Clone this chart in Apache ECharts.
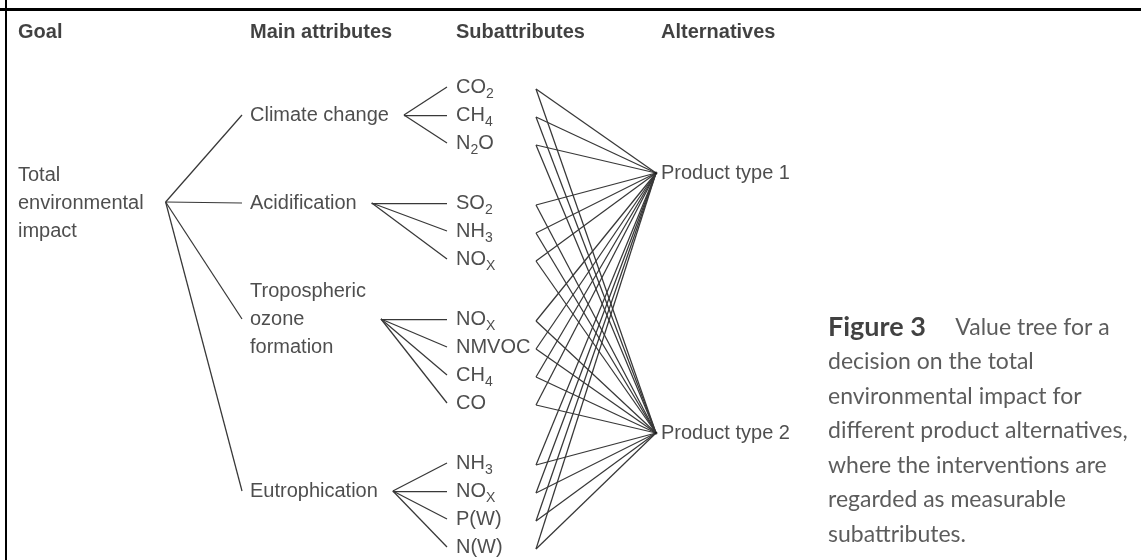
<!DOCTYPE html>
<html>
<head>
<meta charset="utf-8">
<script src="https://cdn.jsdelivr.net/npm/echarts@6/dist/echarts.min.js"></script>
<style>
html,body{margin:0;padding:0;background:#fff;}
#chart{width:1141px;height:560px;}
</style>
</head>
<body>
<div id="chart"></div>
<script>
// ---------- DATA ----------
const headers = ['Goal', 'Main attributes', 'Subattributes', 'Alternatives'];
const goal = ['Total', 'environmental', 'impact'];
const mainAttributes = [['Climate change'], ['Acidification'], ['Tropospheric', 'ozone', 'formation'], ['Eutrophication']];
const subattributes = [
  ['CO_2', 'CH_4', 'N_2O'],
  ['SO_2', 'NH_3', 'NO_X'],
  ['NO_X', 'NMVOC', 'CH_4', 'CO'],
  ['NH_3', 'NO_X', 'P(W)', 'N(W)']
];
const alternatives = ['Product type 1', 'Product type 2'];
const captionTitle = 'Figure 3';
const captionLines = ['Value tree for a', 'decision on the total', 'environmental impact for',
  'different product alternatives,', 'where the interventions are', 'regarded as measurable', 'subattributes.'];

// ---------- LAYOUT (code constants) ----------
const W = 1141, H = 560;
const colX = [18, 250, 456, 661];
const headerY = 32;
const firstRow = 87, rowStep = 28, groupGap = 60;
const mainAnchor = [1, 0, 0, 1];   // which child the main attribute aligns with
const altAfterGroup = [0, 2];      // alternatives sit in the gap after these groups
const FONT = '"Liberation Sans", Arial, sans-serif';
const FS = 20;
const TXT = '#222';
const LINE = '#383838';

const cv = document.createElement('canvas').getContext('2d');
function textW(s, bold) { cv.font = (bold ? 'bold ' : '') + FS + 'px ' + FONT; return cv.measureText(s).width; }

// subattribute rows
const subY = [];
let y = firstRow;
subattributes.forEach((g, gi) => {
  const ys = [];
  g.forEach((s, si) => { ys.push(y); y += rowStep; });
  y += groupGap - rowStep;
  subY.push(ys);
});
const mainY = subY.map((ys, i) => ys[mainAnchor[i]]);
const goalY = mainY[1];
const altY = altAfterGroup.map(g => (subY[g][subY[g].length - 1] + subY[g + 1][0]) / 2);
const altX = colX[3] - 5;
const subRightX = colX[2] + 80;

const goalJx = colX[0] + Math.max(...goal.map(s => textW(s))) + 22;
const segs = [];
mainAttributes.forEach((m, i) => {
  segs.push([[goalJx, goalY - 1], [colX[1] - 8, mainY[i]]]);
  const jx = colX[1] + Math.max(...m.map(s => textW(s))) + 15;
  subY[i].forEach(sy => segs.push([[jx, mainY[i]], [colX[2] - 9, sy]]));
  subY[i].forEach(sy => altY.forEach(ay => segs.push([[subRightX, sy + 2], [altX, ay]])));
});

// frame
const frame = [
  { coords: [[0, 9.5], [W, 9.5]], lineStyle: { width: 3, color: '#000' } },
  { coords: [[5.8, 0], [5.8, H]], lineStyle: { width: 2, color: '#000' } }
];

function sub(s) { return s.replace(/([^_]+)|_(.)/g, (m, a, b) => a ? '{m|' + a + '}' : '{s|' + b + '}'); }

const labels = [];
headers.forEach((h, i) => labels.push({ value: [colX[i], headerY], label: { formatter: '{h|' + h + '}' } }));
labels.push({ value: [colX[0], goalY], label: { formatter: goal.map(s => '{m|' + s + '}').join('\n') } });
mainAttributes.forEach((m, i) => labels.push({ value: [colX[1], mainY[i]], label: { formatter: m.map(s => '{m|' + s + '}').join('\n') } }));
subattributes.forEach((g, gi) => g.forEach((s, si) => labels.push({ value: [colX[2], subY[gi][si]], label: { formatter: sub(s) } })));
alternatives.forEach((a, i) => labels.push({ value: [colX[3], altY[i]], label: { formatter: '{m|' + a + '}' } }));

const captionText = '{cb|' + captionTitle + '}{c|     ' + captionLines[0] + '}\n' + captionLines.slice(1).map(s => '{c|' + s + '}').join('\n');

const chart = echarts.init(document.getElementById('chart'), null, { renderer: 'canvas' });
chart.setOption({
  animation: false,
  backgroundColor: '#fff',
  grid: { left: 0, right: 0, top: 0, bottom: 0 },
  xAxis: { type: 'value', min: 0, max: W, show: false },
  yAxis: { type: 'value', min: 0, max: H, inverse: true, show: false },
  series: [
    {
      type: 'lines', coordinateSystem: 'cartesian2d', polyline: false, silent: true,
      lineStyle: { color: LINE, width: 1.25, opacity: 1 },
      data: segs.map(c => ({ coords: c }))
    },
    {
      type: 'lines', coordinateSystem: 'cartesian2d', silent: true,
      lineStyle: { opacity: 1 },
      data: frame
    },
    {
      type: 'scatter', symbolSize: 3, silent: true,
      itemStyle: { color: '#111' },
      data: altY.map(ay => [altX, ay])
    },
    {
      type: 'scatter', symbolSize: 0, silent: true,
      data: labels,
      label: {
        show: true, position: 'right', distance: 0, color: TXT,
        fontFamily: FONT, fontSize: FS, lineHeight: 28,
        rich: {
          m: { fontFamily: FONT, fontSize: FS, lineHeight: 28, color: TXT },
          h: { fontFamily: FONT, fontSize: FS, fontWeight: 'bold', color: '#111' },
          s: { fontFamily: FONT, fontSize: 14, lineHeight: 10, verticalAlign: 'bottom', color: TXT }
        }
      }
    },
    {
      type: 'scatter', symbolSize: 0, silent: true,
      data: [{ value: [828, 431] }],
      label: {
        show: true, position: 'right', distance: 0,
        formatter: captionText,
        rich: {
          cb: { fontFamily: 'Lato, sans-serif', fontSize: 27, fontWeight: 'bold', color: '#111', lineHeight: 34.5 },
          c: { fontFamily: 'Lato, sans-serif', fontSize: 23, color: '#333', lineHeight: 34.5 }
        }
      }
    }
  ]
});
</script>
</body>
</html>
